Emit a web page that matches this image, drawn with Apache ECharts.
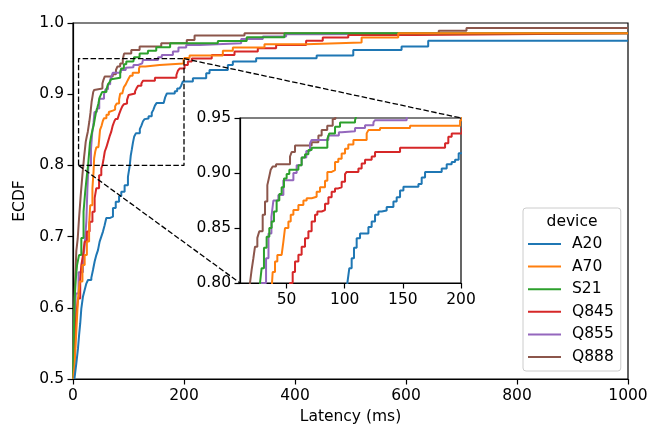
<!DOCTYPE html>
<html>
<head>
<meta charset="utf-8">
<script src="https://cdn.jsdelivr.net/npm/echarts@6/dist/echarts.min.js"></script>
<style>html,body{margin:0;padding:0;background:#fff}#c{width:664px;height:443px}</style>
</head>
<body>
<div id="c"></div>
<script>
const DEVICES = ['A20', 'A70', 'S21', 'Q845', 'Q855', 'Q888'];
const COLORS = ['#1f77b4', '#ff7f0e', '#2ca02c', '#d62728', '#9467bd', '#8c564b'];

// ECDF step points [latency ms, cumulative fraction]
const A20 = [[2.5,0.5],[3,0.503],[6,0.522],[9,0.543],[11,0.562],[13,0.578],[15,0.599],[18,0.616],[21,0.625],[24,0.634],[27,0.639],[33,0.642],[36,0.653],[39,0.665],[42,0.674],[45,0.681],[48,0.693],[51,0.70],[54,0.707],[57,0.716],[60,0.726],[66,0.728],[72,0.74],[77,0.749],[83,0.757],[87,0.763],[93,0.772],[99,0.784],[102.3,0.80],[104,0.8135],[106,0.8225],[108,0.832],[110.3,0.8407],[113.2,0.845],[120.4,0.851],[123.2,0.856],[126.1,0.862],[129,0.865],[131.8,0.866],[136.1,0.869],[141.9,0.874],[144.7,0.878],[147.6,0.884],[150.5,0.8875],[163.4,0.890],[166.2,0.896],[169.1,0.901],[183.4,0.904],[187.7,0.908],[192,0.910],[194.9,0.912],[198,0.918],[216,0.9225],[240,0.9295],[246,0.934],[279,0.941],[288,0.9458],[330,0.9505],[439,0.9542],[505,0.9622],[592,0.967],[640,0.975],[1000,0.975]];
const A70 = [[0.5,0.5],[1,0.505],[3,0.52],[6,0.567],[9,0.613],[12,0.637],[17,0.66],[21,0.674],[25,0.693],[29,0.716],[31,0.744],[35,0.768],[37,0.791],[38.1,0.810],[40.1,0.8195],[42.1,0.8255],[45.8,0.827],[47.3,0.8377],[48.7,0.850],[51.6,0.856],[53.6,0.862],[55.9,0.8663],[60.2,0.871],[64.5,0.875],[67.3,0.877],[71.6,0.8784],[75.9,0.883],[78.8,0.887],[83.1,0.893],[85.1,0.901],[88.8,0.9026],[91.7,0.910],[94.5,0.913],[97.4,0.9177],[100.3,0.922],[103.1,0.926],[107.5,0.930],[118.9,0.936],[120.4,0.939],[130.4,0.941],[156.2,0.943],[199.2,0.948],[201,0.951],[210,0.9542],[270,0.961],[288,0.9655],[345,0.970],[420,0.9725],[520,0.9795],[586,0.9856],[1000,0.9856]];
const S21 = [[0,0.5],[1,0.545],[3,0.613],[5,0.64],[7.3,0.66],[10.9,0.674],[15,0.698],[19,0.735],[22,0.763],[25,0.786],[27.2,0.80],[28.6,0.8135],[30.6,0.832],[32.9,0.842],[35.2,0.85],[37.2,0.856],[39.2,0.865],[41.5,0.875],[43.8,0.881],[45.8,0.887],[47.8,0.895],[50.1,0.899],[52.4,0.903],[60.2,0.907],[63,0.914],[65.9,0.917],[68.8,0.921],[71.6,0.923],[85.1,0.931],[86.8,0.936],[91.7,0.942],[96,0.946],[108.9,0.948],[110,0.952],[120,0.957],[135,0.961],[150,0.966],[175,0.9715],[261,0.9748],[313,0.980],[381,0.9856],[1000,0.9856]];
const Q845 = [[0.5,0.5],[3,0.55],[6,0.59],[9,0.613],[13,0.64],[15,0.66],[18,0.674],[21,0.693],[25,0.707],[30,0.721],[35,0.735],[39,0.754],[42,0.768],[47,0.786],[51,0.796],[53,0.80],[55.3,0.810],[57.3,0.8195],[60.2,0.8256],[63,0.833],[65.9,0.8407],[68.8,0.847],[71.6,0.856],[74.5,0.862],[76.5,0.865],[80.2,0.8663],[83.1,0.872],[86,0.878],[88.8,0.883],[91.7,0.886],[94.5,0.887],[97.4,0.892],[100.3,0.899],[101.7,0.901],[111.8,0.904],[114.6,0.9086],[117.5,0.912],[123.2,0.915],[126.1,0.919],[147.6,0.923],[186.3,0.927],[189.1,0.933],[192,0.936],[201,0.941],[207,0.946],[214,0.95],[250,0.955],[291,0.960],[333,0.9645],[366,0.969],[420,0.975],[450,0.9795],[496,0.983],[619,0.9856],[1000,0.9856]];
const Q855 = [[0,0.5],[2,0.56],[5,0.62],[10,0.65],[18,0.665],[21,0.688],[24,0.721],[26,0.768],[27.8,0.80],[32.4,0.8225],[34.5,0.845],[37,0.86],[38.7,0.875],[43,0.88],[47.3,0.8935],[55.9,0.90],[58.7,0.907],[63,0.914],[67,0.92],[70.2,0.927],[71.6,0.930],[86,0.934],[95,0.937],[97.4,0.938],[108.9,0.941],[117.5,0.9433],[124.7,0.946],[126,0.948],[153.3,0.952],[160,0.955],[180,0.96],[190,0.9655],[204,0.969],[228,0.9715],[303,0.9776],[342,0.981],[384,0.9842],[444,0.9856],[1000,0.9856]];
const Q888 = [[0,0.5],[1,0.56],[3,0.62],[6,0.68],[8.5,0.697],[10.9,0.726],[13.9,0.758],[16.9,0.786],[18.6,0.80],[20,0.812],[21.5,0.8225],[22.9,0.833],[24.9,0.841],[26.6,0.847],[29.5,0.862],[31.5,0.874],[33.5,0.889],[35.2,0.897],[36.4,0.903],[38.1,0.906],[41,0.908],[53,0.915],[54.4,0.919],[57.3,0.925],[71.6,0.928],[77.4,0.934],[80.2,0.939],[85,0.943],[89.7,0.949],[92,0.957],[105,0.962],[120,0.967],[159,0.9715],[205,0.9762],[219,0.9823],[309,0.9856],[659,0.989],[709,0.993],[1000,0.993]];
const SERIES_DATA = [A20, A70, S21, Q845, Q855, Q888];

const MAIN_X = [0, 1000, 200];
const MAIN_Y = [0.5, 1.0, 0.1];
const INSET_X = [10, 200];
const INSET_Y = [0.80, 0.95];
const INSET_X_TICKS = [50, 100, 150, 200];

const FONT = 'DejaVu Sans';
const FS = 15.5;
const chart = echarts.init(document.getElementById('c'), null, {renderer: 'canvas'});

const axisCommon = {
  axisLine: {show: true, onZero: false, lineStyle: {color: '#000', width: 1.2}},
  axisTick: {show: true, inside: false, length: 5.5, lineStyle: {color: '#000', width: 1.2}},
  axisLabel: {color: '#000', fontFamily: FONT, fontSize: FS, margin: 9},
  splitLine: {show: false}
};

const series = [];
// draw in reverse order so A20 ends on top (as in the reference)
for (let i = DEVICES.length - 1; i >= 0; i--) {
  for (const g of [0, 1]) {
    series.push({
      name: DEVICES[i], type: 'line', step: 'end',
      xAxisIndex: g, yAxisIndex: g, data: SERIES_DATA[i],
      showSymbol: false, symbol: 'none', clip: true,
      lineStyle: {color: COLORS[i], width: 2}, itemStyle: {color: COLORS[i]},
      animation: false, z: 2
    });
  }
}
// dashed zoom rectangle on main axes
series.push({
  type: 'line', xAxisIndex: 0, yAxisIndex: 0, silent: true, symbol: 'none', animation: false,
  data: [[INSET_X[0], INSET_Y[0]], [INSET_X[1], INSET_Y[0]], [INSET_X[1], INSET_Y[1]], [INSET_X[0], INSET_Y[1]], [INSET_X[0], INSET_Y[0]]],
  lineStyle: {color: '#000', width: 1.3, type: [5.5, 2.4]}, z: 3
});

chart.setOption({
  animation: false,
  backgroundColor: '#fff',
  grid: [
    {left: 73, top: 23, right: 36, bottom: 64, show: true, borderColor: '#000', borderWidth: 1.2, backgroundColor: 'transparent'},
    {left: 240, top: 118, width: 221, height: 165, show: true, borderColor: '#000', borderWidth: 1.2, backgroundColor: '#fff'}
  ],
  xAxis: [
    Object.assign({}, axisCommon, {type: 'value', gridIndex: 0, min: MAIN_X[0], max: MAIN_X[1], interval: MAIN_X[2],
      name: 'Latency (ms)', nameLocation: 'middle', nameGap: 27,
      nameTextStyle: {color: '#000', fontFamily: FONT, fontSize: FS},
      axisLabel: Object.assign({}, axisCommon.axisLabel, {formatter: v => String(v)})}),
    Object.assign({}, axisCommon, {type: 'value', gridIndex: 1, min: INSET_X[0], max: INSET_X[1],
      axisTick: Object.assign({}, axisCommon.axisTick, {customValues: INSET_X_TICKS}),
      axisLabel: Object.assign({}, axisCommon.axisLabel, {customValues: INSET_X_TICKS, formatter: v => String(v)})})
  ],
  yAxis: [
    Object.assign({}, axisCommon, {type: 'value', gridIndex: 0, min: MAIN_Y[0], max: MAIN_Y[1], interval: MAIN_Y[2],
      name: 'ECDF', nameLocation: 'middle', nameGap: 44,
      nameTextStyle: {color: '#000', fontFamily: FONT, fontSize: FS},
      axisLabel: Object.assign({}, axisCommon.axisLabel, {formatter: v => v.toFixed(1)})}),
    Object.assign({}, axisCommon, {type: 'value', gridIndex: 1, min: INSET_Y[0], max: INSET_Y[1], interval: 0.05,
      axisLabel: Object.assign({}, axisCommon.axisLabel, {formatter: v => v.toFixed(2)})})
  ],
  legend: {
    data: DEVICES, orient: 'vertical', left: 523, top: 208,
    padding: [28, 7, 6, 5], itemGap: 6.6, itemWidth: 33, itemHeight: 2, icon: 'rect',
    textStyle: {color: '#000', fontFamily: FONT, fontSize: FS, lineHeight: 15.5, padding: [0, 0, 0, 6]},
    backgroundColor: 'rgba(255,255,255,0.8)', borderColor: '#cccccc', borderWidth: 1, borderRadius: 3
  },
  series: series
});

// connector lines between zoom rectangle and inset
const a1 = chart.convertToPixel({gridIndex: 0}, [INSET_X[0], INSET_Y[0]]);
const b1 = chart.convertToPixel({gridIndex: 1}, [INSET_X[0], INSET_Y[0]]);
const a2 = chart.convertToPixel({gridIndex: 0}, [INSET_X[1], INSET_Y[1]]);
const b2 = chart.convertToPixel({gridIndex: 1}, [INSET_X[1], INSET_Y[1]]);
const dash = {stroke: '#000', lineWidth: 1.3, lineDash: [5.5, 2.4]};
chart.setOption({
  graphic: [
    {type: 'line', z: 5, silent: true, shape: {x1: a1[0], y1: a1[1], x2: b1[0], y2: b1[1]}, style: dash},
    {type: 'line', z: 5, silent: true, shape: {x1: a2[0], y1: a2[1], x2: b2[0], y2: b2[1]}, style: dash},
    {type: 'text', z: 10, x: 572, y: 222, silent: true,
      style: {text: 'device', fill: '#000', font: FS + 'px "DejaVu Sans"', align: 'center', verticalAlign: 'middle'}}
  ]
});
</script>
</body>
</html>
